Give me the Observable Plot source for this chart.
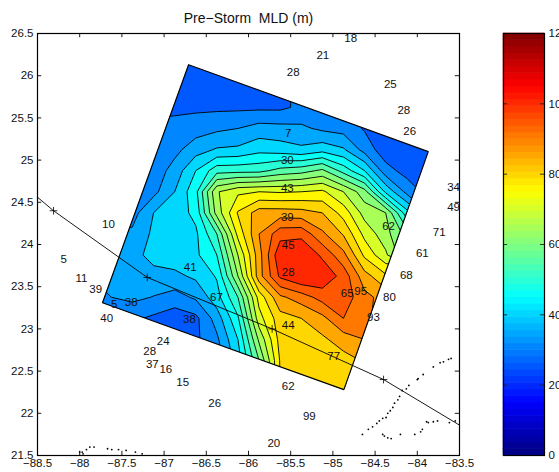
<!DOCTYPE html>
<html>
<head>
<meta charset="utf-8">
<script src="https://cdn.jsdelivr.net/npm/d3@7"></script>
<script src="https://cdn.jsdelivr.net/npm/@observablehq/plot@0.6"></script>
<style>
html,body{margin:0;padding:0;background:#fff;overflow:hidden}
#wrap{position:relative;width:559px;height:472px;overflow:hidden}
#wrap svg{position:absolute;left:0;top:0;background:transparent;overflow:hidden}
</style>
</head>
<body>
<div id="wrap"></div>
<script>
// Mixed-layer depth, on a 0.25 degree lon/lat grid (north to south)
const mld00 = [27,27,27,27,27,27,27,27,27,27,30,30,30,30,30,26,26,26];
const mld01 = [27,27,27,27,27,27,27,27,27,27,30,30,30,30,30,26,26,26];
const mld02 = [27,27,27,27,27,27,27,27,27,29,31,31,30,29,27,26,25,25];
const mld03 = [29,29,29,29,29,29,29,29,29,29,31,32,32,30,28,26,25,25];
const mld04 = [31,31,31,31,31.5,32.7,34,35,37,36.6,36,34,33,29.5,28,27,26,25];
const mld05 = [31,31,31,32,33.5,37.8,40.5,41,43.4,42.4,41,43,40.6,33,27,26,25,25];
const mld06 = [32,32,32,32,37,45,53,53.3,53.5,56.7,58,61,53,45,32,28,25,25];
const mld07 = [33,33,33,33.5,40,48.5,69.5,74,75,74.5,75,76,70,62,44,33.5,28,25];
const mld08 = [33,33,33,40,42,46.5,67,80.5,87.5,87.5,87,85,78,68,65,47,35,30];
const mld09 = [35,35,36,41,42,44,55,76.5,90,98,98.5,91,84.5,73.5,67,58,45,40];
const mld10 = [34,34,38,42,43,44,50,70,88,104,105,99,91.5,79,71,60,55,50];
const mld11 = [35,36,38.3,38,38.7,41,45.5,65,88,101,105,104,98,87,81,85,85,85];
const mld12 = [34,35,36.2,34.8,33,35.8,43,55,77,89,92.5,97,98,91.5,88,88,85,85];
const mld13 = [30,30,31,29,27,28.7,37.3,49.3,73,83,85,88.6,95,91,88,85,85,85];
const mld14 = [30,30,30,29,27,29,34,45,66,82,82.5,84,87.5,90,88,85,85,85];
const mld15 = [30,30,30,29,27,28,32,42.5,60,80.5,81,81,83,85.5,85,85,85,85];
const mld16 = [30,30,30,29,27,28,30,40,60,80,81,81,80.5,78,82,85,85,85];
const mld17 = [30,30,30,29,27,28,30,40,60,80,81,81,81,80,82,85,85,85];
const mldGrid = [mld00,mld01,mld02,mld03,mld04,mld05,mld06,mld07,mld08,mld09,mld10,mld11,mld12,mld13,mld14,mld15,mld16,mld17];

const levels = d3.range(25, 105, 5);
const barLevels = d3.range(64);
const barTicks = [0,20,40,60,80,100,120];
const lonTicks = [-88.5,-88,-87.5,-87,-86.5,-86,-85.5,-85,-84.5,-84,-83.5];
const latTicks = [21.5,22,22.5,23,23.5,24,24.5,25,25.5,26,26.5];

// Survey box
const boxLon = [-86.71,-83.87,-84.87,-87.73,-86.71];
const boxLat = [26.13,25.10,22.28,23.31,26.13];

// Storm track and its markers
const trackLon = [-88.5,-88.31,-87.2,-85.72,-84.4,-83.5];
const trackLat = [24.56,24.40,23.61,23.0,22.4,21.86];
const markLon = [-88.31,-87.2,-85.72,-84.4];
const markLat = [24.40,23.61,23.0,22.4];

// Coast points
const coastLon = [-84.65,-84.58,-84.53,-84.48,-84.45,-84.41,-84.37,-84.35,-84.32,-84.29,-84.27,-84.23,-84.21,-84.18,-84.13,-84.1,-84.0,-83.99,-83.93,-83.81,-83.73,-83.69,-83.63,-83.6,
  -84.41,-84.39,-84.35,-84.31,-84.2,-84.03,-83.96,-83.94,-83.89,-83.87,-83.81,-83.76,-83.62,-83.55,
  -88.0,-87.97,-87.96,-87.92,-87.88,-87.83,-87.67,-87.62,-87.54,-87.45,-87.34,-87.26];
const coastLat = [21.75,21.81,21.84,21.88,21.91,21.94,21.95,22.0,22.03,22.07,22.12,22.16,22.2,22.27,22.29,22.33,22.4,22.41,22.46,22.55,22.6,22.61,22.64,22.65,
  21.75,21.73,21.71,21.70,21.75,21.75,21.78,21.81,21.9,21.89,21.9,21.91,21.89,21.91,
  21.54,21.54,21.52,21.57,21.6,21.6,21.58,21.57,21.57,21.56,21.54,21.52];

// Station values
const stationText = ["18","21","28","25","28","26","7","30","34","49","43","39","10","62","71","45","61","5","41","28","68","11","39","65","95","80","67","5","38","40","38","93","44","24","28","77","37","16","15","62","26","99","20"];
const stationLon = [-84.79,-85.12,-85.47,-84.32,-84.16,-84.09,-85.53,-85.54,-83.57,-83.57,-85.54,-85.54,-87.66,-84.34,-83.74,-85.53,-83.94,-88.19,-86.69,-85.53,-84.13,-87.98,-87.81,-84.83,-84.67,-84.33,-86.38,-87.59,-87.39,-87.68,-86.70,-84.52,-85.53,-87.01,-87.17,-84.99,-87.14,-86.98,-86.78,-85.53,-86.40,-85.28,-85.70];
const stationLat = [26.44,26.24,26.04,25.90,25.59,25.34,25.32,25.0,24.68,24.44,24.66,24.32,24.24,24.21,24.15,23.99,23.89,23.82,23.73,23.67,23.63,23.60,23.47,23.42,23.44,23.37,23.37,23.29,23.31,23.12,23.11,23.14,23.04,22.85,22.74,22.67,22.58,22.52,22.37,22.32,22.12,21.96,21.65];

const jetStops = ["#00007f","#0000ff","#00ffff","#ffff00","#ff0000","#7f0000"];
const jetAt = d3.scaleLinear().domain([0,1/8,3/8,5/8,7/8,1]).range(jetStops).interpolate(d3.interpolateRgb);
const jet = t => jetAt((Math.min(63, Math.floor(t*64)) + 0.5)/64);

const font = "'Liberation Sans', Arial, sans-serif";
const fs = 11.5;

const clipToBox = (index, scales, values, dimensions, context, next) => {
  const g = next(index, scales, values, dimensions, context);
  const ns = "http://www.w3.org/2000/svg";
  const cp = context.document.createElementNS(ns, "clipPath");
  cp.setAttribute("id", "box-clip");
  const poly = context.document.createElementNS(ns, "polygon");
  poly.setAttribute("points", boxLon.map((d,i) => `${scales.x(d)},${scales.y(boxLat[i])}`).join(" "));
  cp.appendChild(poly);
  const wrap = context.document.createElementNS(ns, "g");
  wrap.appendChild(cp);
  g.setAttribute("clip-path", "url(#box-clip)");
  wrap.appendChild(g);
  return wrap;
};

const map = Plot.plot({
  width: 559, height: 472,
  marginLeft: 37, marginRight: 100, marginTop: 33, marginBottom: 17,
  style: {fontFamily: font, fontSize: fs+"px", color: "#111"},
  x: {domain: [-88.5,-83.5]},
  y: {domain: [21.5,26.5]},
  color: {type: "linear", domain: [0,120], interpolate: jet},
  marks: [
    Plot.contour(mldGrid.flat(), {
      width: 18, height: 18, x1: -88, x2: -83.5, y1: 26.5, y2: 22,
      value: Plot.identity, fill: "value", stroke: "black", strokeWidth: 0.9,
      thresholds: levels, render: clipToBox
    }),
    Plot.line(boxLon.map((d,i) => [d,boxLat[i]]), {x: "0", y: "1", stroke: "black", strokeWidth: 1.2, strokeLinejoin: "miter"}),
    Plot.line(trackLon.map((d,i) => [d,trackLat[i]]), {x: "0", y: "1", stroke: "black", strokeWidth: 0.9, curve: "linear"}),
    Plot.dot(markLon.map((d,i) => [d,markLat[i]]), {x: "0", y: "1", symbol: "plus", r: 2.6, stroke: "black", strokeWidth: 0.8}),
    Plot.dot(coastLon.map((d,i) => [d,coastLat[i]]), {x: "0", y: "1", r: 0.9, fill: "black"}),
    Plot.text(stationText, {x: (d,i) => stationLon[i], y: (d,i) => stationLat[i], text: d => d, fontSize: fs, fill: "#111"}),
    Plot.ruleX(lonTicks, {x: d => d, y1: 21.5, y2: 21.55, stroke: "black", strokeWidth: 0.9}),
    Plot.ruleX(lonTicks, {x: d => d, y1: 26.45, y2: 26.5, stroke: "black", strokeWidth: 0.9}),
    Plot.ruleY(latTicks, {y: d => d, x1: -88.5, x2: -88.45, stroke: "black", strokeWidth: 0.9}),
    Plot.ruleY(latTicks, {y: d => d, x1: -83.55, x2: -83.5, stroke: "black", strokeWidth: 0.9}),
    Plot.frame({stroke: "black", strokeWidth: 1.2}),
    Plot.axisX(lonTicks, {anchor: "bottom", tickSize: 0, tickPadding: 3, label: null, fontSize: fs, tickFormat: d => String(d).replace("-","\u2212")}),
    Plot.axisY(latTicks, {anchor: "left", tickSize: 0, tickPadding: 4, label: null, fontSize: fs, tickFormat: d => String(d)}),
    Plot.text(["Pre\u2212Storm  MLD (m)"], {frameAnchor: "top", lineAnchor: "middle", dy: -14.5, fontSize: 14, fill: "#111"})
  ]
});

const bar = Plot.plot({
  width: 559, height: 472,
  marginLeft: 503, marginRight: 15, marginTop: 33, marginBottom: 17,
  style: {fontFamily: font, fontSize: fs+"px", color: "#111"},
  x: {domain: [0,1], axis: null},
  y: {domain: [0,120]},
  marks: [
    Plot.rectY(barLevels, {x1: 0, x2: 1, y1: d => d*120/64, y2: d => (d+1)*120/64, fill: d => jet((d+0.5)/64), inset: -0.3}),
    Plot.ruleY(barTicks, {y: d => d, x1: 0, x2: 0.1, stroke: "#222", strokeWidth: 0.9}),
    Plot.ruleY(barTicks, {y: d => d, x1: 0.9, x2: 1, stroke: "#222", strokeWidth: 0.9}),
    Plot.frame({stroke: "black", strokeWidth: 1.2}),
    Plot.axisY(barTicks, {anchor: "right", tickSize: 0, tickPadding: 4, label: null, fontSize: fs, tickFormat: d => String(d)})
  ]
});

const wrap = document.getElementById("wrap");
wrap.appendChild(map);
wrap.appendChild(bar);
</script>
</body>
</html>
